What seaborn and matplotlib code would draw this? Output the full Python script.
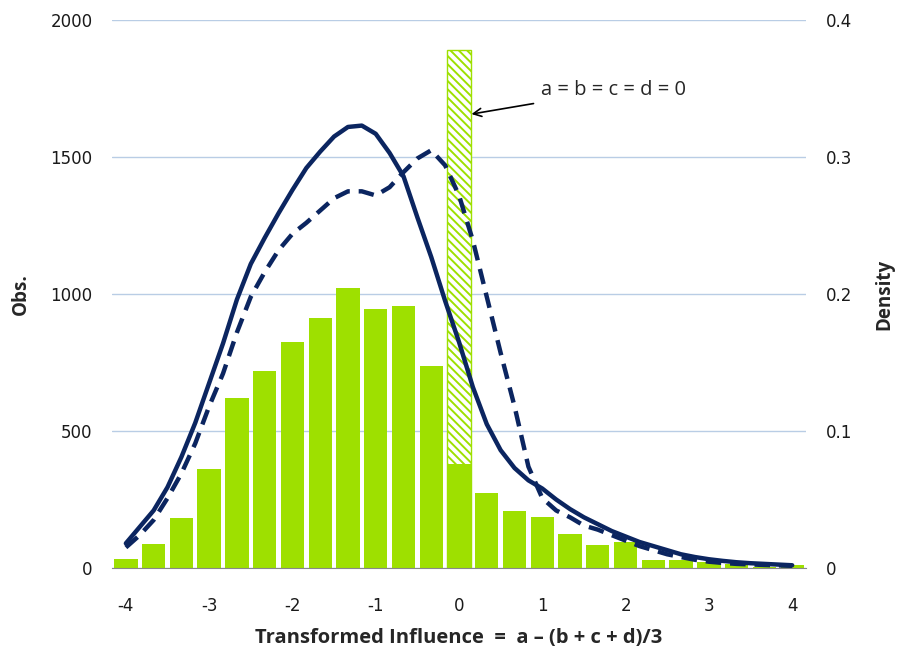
import numpy as np
import pandas as pd
import matplotlib.pyplot as plt
import seaborn as sns

# bin centres of the transformed influence (steps of 1/3)
bin_centres = [-4.0, -3.67, -3.33, -3.0, -2.67, -2.33, -2.0, -1.67, -1.33, -1.0, -0.67, -0.33,
               0.0, 0.33, 0.67, 1.0, 1.33, 1.67, 2.0, 2.33, 2.67, 3.0, 3.33, 3.67, 4.0]
tick_labels = ['-4', '-3', '-2', '-1', '0', '1', '2', '3', '4']

# observations per bin
obs = [33, 86, 184, 360, 620, 719, 825, 912, 1022, 945, 956, 737,
       378, 275, 209, 187, 125, 83, 96, 29, 29, 23, 13, 5, 11]
# total at zero when a = b = c = d = 0 (hatched part)
spike = [0, 0, 0, 0, 0, 0, 0, 0, 0, 0, 0, 0,
         1890, 0, 0, 0, 0, 0, 0, 0, 0, 0, 0, 0, 0]

# densities (right axis), read every 1/6 from -4 to 4
dens_solid = [0.018, 0.030, 0.042, 0.059, 0.081, 0.106, 0.135, 0.164, 0.196, 0.222,
              0.241, 0.259, 0.276, 0.292, 0.304, 0.315, 0.322, 0.323, 0.317, 0.303,
              0.286, 0.256, 0.227, 0.195, 0.165, 0.132, 0.105, 0.086, 0.073, 0.064,
              0.058, 0.050, 0.043, 0.037, 0.032, 0.027, 0.023, 0.019, 0.016, 0.013,
              0.010, 0.008, 0.0064, 0.0052, 0.0042, 0.0035, 0.003, 0.0025, 0.002]
dens_dashed = [0.015, 0.024, 0.035, 0.051, 0.069, 0.091, 0.118, 0.142, 0.172, 0.198,
               0.216, 0.232, 0.244, 0.252, 0.261, 0.270, 0.275, 0.275, 0.272, 0.278,
               0.289, 0.299, 0.305, 0.294, 0.272, 0.239, 0.198, 0.157, 0.118, 0.074,
               0.051, 0.042, 0.037, 0.031, 0.028, 0.024, 0.020, 0.016, 0.013, 0.010,
               0.008, 0.006, 0.0046, 0.0037, 0.003, 0.0026, 0.0022, 0.0019, 0.0016]

green = '#9ee000'
navy = '#0b2560'

n = len(bin_centres)
bars = pd.DataFrame({'pos': np.arange(n), 'obs': obs, 'spike': spike})
# curve positions on the bar axis (two per bin)
curves = pd.DataFrame({'pos': np.arange(len(dens_solid)) / 2,
                       'solid': dens_solid, 'dashed': dens_dashed})

sns.set_style('white')
plt.rcParams['font.family'] = ['DejaVu Sans']
plt.rcParams['hatch.linewidth'] = 1.4

fig = plt.figure(figsize=(8.98, 6.49), dpi=100)
ax = fig.add_axes([0.1247, 0.1248, 0.7729, 0.8442])

# hatched spike bar first, solid bars on top
sns.barplot(data=bars, x='pos', y='spike', ax=ax, color='white', width=0.84, saturation=1,
            edgecolor=green, linewidth=1, hatch='\\' * 4)
for p in ax.patches:
    if p.get_height() == 0:
        p.set_visible(False)
sns.barplot(data=bars, x='pos', y='obs', ax=ax, color=green, width=0.84, saturation=1, linewidth=0)

ax.set_ylim(0, 2000)
ax.set_yticks([0, 500, 1000, 1500, 2000])
ax.yaxis.grid(True, color='#b9cde5', lw=1)
ax.set_axisbelow(True)

ax2 = ax.twinx()
sns.lineplot(data=curves, x='pos', y='solid', ax=ax2, color=navy, lw=3.2)
sns.lineplot(data=curves, x='pos', y='dashed', ax=ax2, color=navy, lw=3.2, linestyle=(0, (3.5, 2)))
ax2.set_ylim(0, 0.4)
ax2.set_yticks([0, 0.1, 0.2, 0.3, 0.4])
ax2.set_yticklabels(['0', '0.1', '0.2', '0.3', '0.4'])

ax.set_xlim(-0.5, n - 0.5)
ax.set_xticks(np.arange(-0.5, n, 1))
ax.set_xticklabels([''] * (n + 1))
ax.set_xticks(np.arange(0, n, 3), minor=True)
ax.set_xticklabels(tick_labels, minor=True)
ax.tick_params(axis='x', which='major', length=7, color='#888888', width=1, direction='out')
ax.tick_params(axis='x', which='minor', length=0, pad=21, labelsize=12, labelcolor='#1a1a1a')
ax.tick_params(axis='y', length=0, pad=14, labelsize=12, labelcolor='#1a1a1a')
ax2.tick_params(axis='y', length=0, pad=14, labelsize=12, labelcolor='#1a1a1a')

for s in ['top', 'left', 'right']:
    ax.spines[s].set_visible(False)
ax.spines['bottom'].set_color('#888888')
for s in ax2.spines.values():
    s.set_visible(False)

ax.set_xlabel('Transformed Influence  =  a \u2013 (b + c + d)/3', fontsize=14.5, fontweight='bold',
              family='Open Sans', labelpad=9)
ax.set_ylabel('Obs.', fontsize=13.5, fontweight='bold', family='Open Sans', labelpad=14)
ax2.set_ylabel('Density', fontsize=13.5, fontweight='bold', family='Open Sans', labelpad=16)

ax.annotate('a = b = c = d = 0', xy=(12.45, 1657), xytext=(14.95, 1745),
            fontsize=14.5, family='Open Sans', va='center', ha='left',
            arrowprops=dict(arrowstyle='->', color='black', lw=1.2, shrinkA=3, shrinkB=0))

fig.savefig('out.png', dpi=100)
